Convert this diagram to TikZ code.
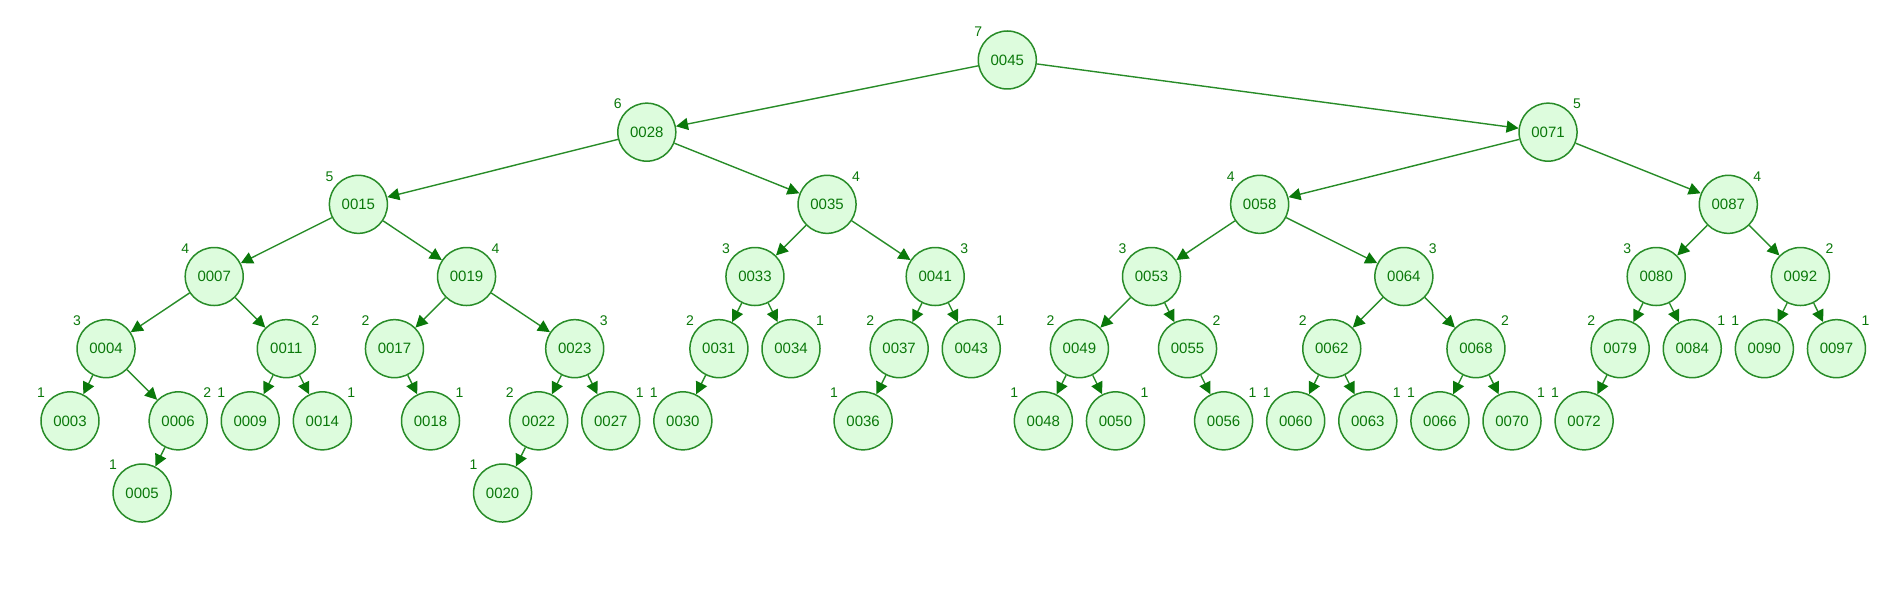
\documentclass[tikz,border=0pt]{standalone}
\usepackage{fontspec}
\setmainfont{Liberation Sans}
\usetikzlibrary{arrows.meta}
\definecolor{keyfill}{RGB}{221,252,221}
\definecolor{keyline}{RGB}{40,140,40}
\definecolor{keytext}{RGB}{10,120,10}

\begin{document}
\begin{tikzpicture}[x=1pt,y=-1pt,
	key/.style={circle,draw=keyline,fill=keyfill,line width=1.5pt,minimum size=58pt,inner sep=0pt,text=keytext,font=\fontsize{15}{17}\selectfont},
	hgt/.style={text=keytext,inner sep=0pt,font=\fontsize{14}{16}\selectfont},
	edge/.style={draw=keyline,line width=1.4pt,-{Triangle[length=12pt,width=12pt,color=keytext]}}]
	\useasboundingbox (0,0) rectangle (1902,604);
	% key / in-order index / level / height / side of label
	\foreach \k/\i/\l/\h/\s in {0045/26/0/7/-1,
		0028/16/1/6/-1, 0071/41/1/5/1,
		0015/8/2/5/-1, 0035/21/2/4/1, 0058/33/2/4/-1, 0087/46/2/4/1,
		0007/4/3/4/-1, 0019/11/3/4/1, 0033/19/3/3/-1, 0041/24/3/3/1,
		0053/30/3/3/-1, 0064/37/3/3/1, 0080/44/3/3/-1, 0092/48/3/2/1,
		0004/1/4/3/-1, 0011/6/4/2/1, 0017/9/4/2/-1, 0023/14/4/3/1,
		0031/18/4/2/-1, 0034/20/4/1/1, 0037/23/4/2/-1, 0043/25/4/1/1,
		0049/28/4/2/-1, 0055/31/4/2/1, 0062/35/4/2/-1, 0068/39/4/2/1,
		0079/43/4/2/-1, 0084/45/4/1/1, 0090/47/4/1/-1, 0097/49/4/1/1,
		0003/0/5/1/-1, 0006/3/5/2/1, 0009/5/5/1/-1, 0014/7/5/1/1,
		0018/10/5/1/1, 0022/13/5/2/-1, 0027/15/5/1/1, 0030/17/5/1/-1,
		0036/22/5/1/-1, 0048/27/5/1/-1, 0050/29/5/1/1, 0056/32/5/1/1,
		0060/34/5/1/-1, 0063/36/5/1/1, 0066/38/5/1/-1, 0070/40/5/1/1,
		0072/42/5/1/-1,
		0005/2/6/1/-1, 0020/12/6/1/-1}
	{
		\node[key] (n\k) at (70+36.05*\i, 60+72.17*\l) {\k};
		\node[hgt] (h\k) at (70+36.05*\i+29*\s, 60+72.17*\l-28) {\h};
	}
	
	\foreach \a/\b in {0045/0028, 0045/0071,
		0028/0015, 0028/0035, 0071/0058, 0071/0087,
		0015/0007, 0015/0019, 0035/0033, 0035/0041,
		0058/0053, 0058/0064, 0087/0080, 0087/0092,
		0007/0004, 0007/0011, 0019/0017, 0019/0023,
		0033/0031, 0033/0034, 0041/0037, 0041/0043,
		0053/0049, 0053/0055, 0064/0062, 0064/0068,
		0080/0079, 0080/0084, 0092/0090, 0092/0097,
		0004/0003, 0004/0006, 0011/0009, 0011/0014,
		0017/0018, 0023/0022, 0023/0027, 0031/0030,
		0037/0036, 0049/0048, 0049/0050, 0055/0056,
		0062/0060, 0062/0063, 0068/0066, 0068/0070,
		0079/0072, 0006/0005, 0022/0020}
	\draw[edge] (n\a) -- (n\b);
\end{tikzpicture}
\end{document}
